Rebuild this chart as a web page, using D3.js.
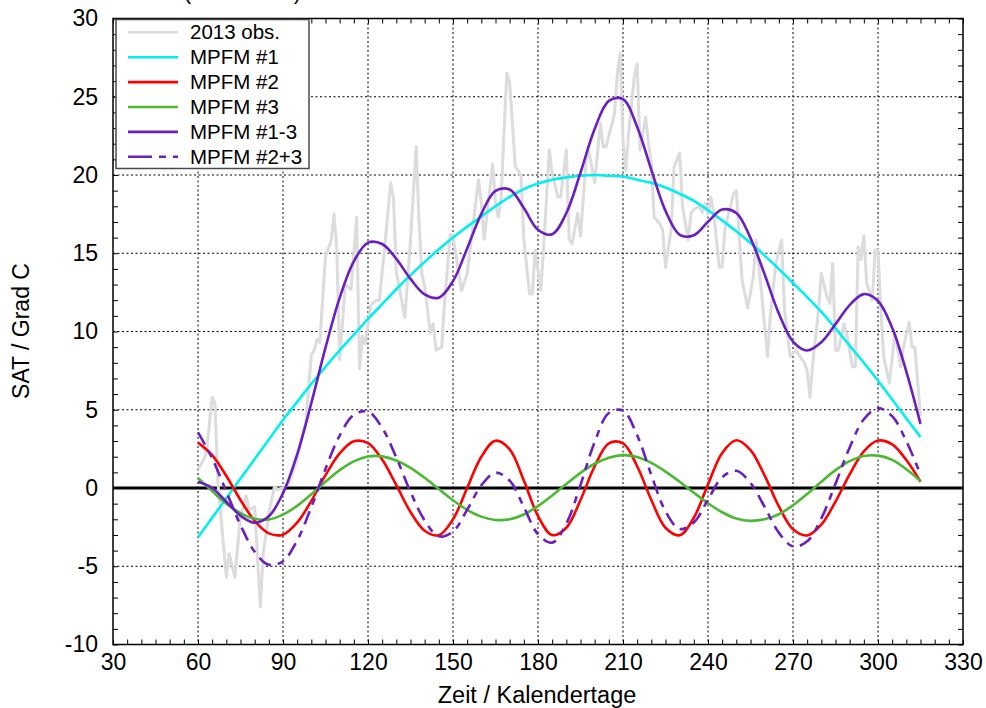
<!DOCTYPE html>
<html>
<head>
<meta charset="utf-8">
<script src="https://cdn.jsdelivr.net/npm/d3@7"></script>
<style>
  html, body { margin: 0; padding: 0; background: #fff; }
  svg { display: block; font-family: "Liberation Sans", Arial, sans-serif; }
</style>
</head>
<body>
<svg id="chart" width="986" height="708"></svg>
<script>
// model curves, sampled every 5 days
const days = d3.range(60, 316, 5);
const mpfm1 = [-3.15, -1.9, -0.65, 0.6, 1.85, 3.1, 4.35, 5.5, 6.65, 7.75, 8.8, 9.8, 10.8, 11.75, 12.7, 13.6, 14.45, 15.25, 16.0, 16.7,
  17.35, 18.0, 18.6, 19.1, 19.45, 19.7, 19.85, 19.95, 20.0, 19.95, 19.9, 19.7, 19.5, 19.2, 18.8, 18.35, 17.75, 17.1, 16.4, 15.65,
  14.85, 14.0, 13.1, 12.2, 11.25, 10.2, 9.1, 8.0, 6.85, 5.65, 4.45, 3.25];
const mpfm2 = [2.9, 2.1, 0.77, -0.77, -2.1, -2.9, -2.98, -2.21, -0.82, 0.82, 2.21, 2.98, 2.87, 1.82, 0.18, -1.53, -2.73, -3.02, -2.0, 0.0,
  2.0, 3.02, 2.47, 0.48, -1.79, -3.01, -2.54, -0.77, 1.39, 2.85, 2.85, 1.39, -0.77, -2.54, -3.02, -1.9, 0.23, 2.24, 3.05, 2.42,
  0.79, -1.17, -2.64, -3.03, -2.34, -0.87, 0.87, 2.34, 3.03, 2.79, 1.79, 0.4];
const mpfm3 = [0.65, -0.2, -1.0, -1.6, -1.97, -2.01, -1.7, -1.14, -0.4, 0.4, 1.14, 1.7, 2.01, 2.02, 1.76, 1.29, 0.65, -0.07, -0.78, -1.39,
  -1.83, -2.04, -2.0, -1.69, -1.16, -0.48, 0.26, 0.97, 1.55, 1.94, 2.1, 1.98, 1.6, 1.05, 0.4, -0.3, -0.97, -1.55, -1.95, -2.1,
  -2.0, -1.68, -1.1, -0.38, 0.4, 1.14, 1.72, 2.05, 2.07, 1.8, 1.2, 0.45];
const mpfm123 = [0.4, 0.0, -0.88, -1.77, -2.22, -1.81, -0.33, 2.15, 5.43, 8.97, 12.15, 14.48, 15.68, 15.59, 14.64, 13.36, 12.37, 12.16, 13.22, 15.31,
  17.52, 18.98, 19.07, 17.89, 16.5, 16.21, 17.57, 20.15, 22.94, 24.74, 24.85, 23.07, 20.33, 17.71, 16.18, 16.15, 17.01, 17.79, 17.57, 15.97,
  13.64, 11.15, 9.36, 8.79, 9.31, 10.47, 11.69, 12.39, 11.95, 10.24, 7.44, 4.1];
const mpfm23 = [3.55, 1.9, -0.23, -2.37, -4.07, -4.91, -4.68, -3.35, -1.22, 1.22, 3.35, 4.68, 4.88, 3.84, 1.94, -0.24, -2.08, -3.09, -2.78, -1.39,
  0.17, 0.98, 0.47, -1.21, -2.95, -3.49, -2.28, 0.2, 2.94, 4.79, 4.95, 3.37, 0.83, -1.49, -2.62, -2.2, -0.74, 0.69, 1.1, 0.32,
  -1.21, -2.85, -3.74, -3.41, -1.94, 0.27, 2.59, 4.39, 5.1, 4.59, 2.99, 0.85];

// 2013 observations (turning points)
const obsDays = [60, 62, 63, 65, 66, 67, 70, 71, 73, 75, 77, 78, 80, 82, 83, 85, 87, 88, 90, 92, 95, 96, 98, 100, 101, 102, 103, 105, 107, 108,
  109, 110, 112, 114, 116, 117, 118, 119, 121, 123, 124, 126, 128, 129, 130, 133, 135, 137, 138, 139, 140, 142, 143, 144, 146, 147, 149, 150, 153, 155,
  159, 160, 161, 164, 165, 166, 167, 168, 169, 170, 172, 173, 174, 175, 177, 178, 179, 181, 182, 184, 185, 187, 188, 190, 191, 192, 194, 195, 197, 198,
  200, 202, 203, 204, 207, 208, 209, 210, 211, 212, 214, 215, 216, 218, 219, 220, 221, 223, 224, 225, 227, 228, 230, 231, 233, 234, 235, 237, 238, 239,
  240, 241, 242, 244, 245, 246, 249, 250, 252, 254, 256, 257, 259, 261, 262, 264, 266, 267, 269, 271, 274, 275, 276, 277, 279, 280, 282, 283, 284, 285,
  286, 288, 289, 291, 292, 293, 294, 295, 296, 298, 299, 300, 301, 302, 304, 306, 308, 309, 311, 312, 313, 315];
const obsVals = [1.2, 1.8, 2.3, 5.8, 5.4, 0.4, -5.7, -4.2, -5.7, -1.8, -0.5, -1.4, -1.2, -7.6, -4.2, -1.6, 0.1, -0.1, 0.0, 0.3, 1.8, 2.8, 4.1, 8.5, 8.8, 9.5, 9.3, 14.8, 15.8, 17.5,
  15.2, 8.2, 13.0, 12.7, 17.3, 7.6, 9.7, 9.2, 11.7, 12.0, 12.0, 15.6, 19.5, 18.5, 13.8, 10.9, 15.8, 21.8, 17.1, 13.7, 12.9, 9.9, 10.5, 8.8, 9.0, 11.8, 16.2, 16.1, 12.6, 13.7,
  19.7, 18.2, 15.9, 20.7, 18.2, 17.3, 18.6, 22.7, 26.5, 25.9, 20.5, 20.3, 19.9, 15.9, 12.4, 12.4, 15.2, 12.65, 15.4, 21.6, 20.1, 18.6, 18.6, 21.6, 15.9, 15.6, 17.55, 16.1, 21.0, 21.5,
  19.5, 23.3, 21.8, 21.8, 23.9, 26.5, 27.8, 22.2, 20.3, 22.7, 26.3, 27.1, 21.6, 23.7, 22.0, 20.75, 17.3, 16.9, 16.5, 14.1, 16.5, 20.5, 21.4, 18.0, 15.85, 17.55, 17.8, 18.0, 17.6, 18.2,
  17.5, 18.6, 17.6, 14.1, 14.1, 16.6, 18.8, 19.0, 13.3, 11.5, 13.5, 15.85, 12.3, 8.4, 11.0, 14.4, 15.85, 11.4, 8.4, 8.8, 8.0, 7.5, 5.8, 8.0, 11.4, 13.7, 12.2, 11.8, 14.35, 8.8,
  8.8, 10.5, 9.8, 7.75, 7.75, 15.4, 14.6, 16.1, 13.1, 12.0, 15.2, 15.2, 11.4, 8.4, 6.7, 9.9, 7.75, 9.0, 10.6, 9.0, 9.0, 4.6];

const xTicks = d3.range(30, 331, 30);
const yTicks = d3.range(-10, 31, 5);
const legendLabels = ["2013 obs.", "MPFM #1", "MPFM #2", "MPFM #3", "MPFM #1-3", "MPFM #2+3"];

const svg = d3.select("#chart");
const pLeft = 113, pRight = 963, pTop = 18.5, pBottom = 644.5;

const x = d3.scaleLinear().domain([30, 330]).range([pLeft, pRight]);
const y = d3.scaleLinear().domain([-10, 30]).range([pBottom, pTop]);

// cut-off title at the very top
svg.append("text")
  .attr("x", 66).attr("y", -1.5)
  .style("font-size", "22px")
  .text("SAT Modell (Jena 2013)");

// grid
const grid = svg.append("g").attr("stroke", "#000").attr("stroke-width", 1).attr("stroke-dasharray", "2,2.5");
grid.selectAll(".gx").data(xTicks.slice(1, -1)).join("line")
  .attr("x1", d => x(d)).attr("x2", d => x(d)).attr("y1", pTop).attr("y2", pBottom);
grid.selectAll(".gy").data(yTicks.filter(d => d !== 0 && d !== -10 && d !== 30)).join("line")
  .attr("x1", pLeft).attr("x2", pRight).attr("y1", d => y(d)).attr("y2", d => y(d));

// zero line
svg.append("line")
  .attr("x1", pLeft).attr("x2", pRight).attr("y1", y(0)).attr("y2", y(0))
  .attr("stroke", "#000").attr("stroke-width", 3);

// axes with inward minor ticks
const minorX = d3.range(30, 331, 5), minorY = d3.range(-10, 31, 1);
function styleAxis(g) {
  g.select(".domain").remove();
  g.selectAll(".tick line").attr("stroke", "#000").attr("stroke-width", 1);
}
svg.append("g").attr("transform", `translate(0,${pBottom})`)
  .call(d3.axisBottom(x).tickValues(minorX).tickSize(-5).tickFormat(""))
  .call(styleAxis);
svg.append("g").attr("transform", `translate(0,${pTop})`)
  .call(d3.axisTop(x).tickValues(minorX).tickSize(-5).tickFormat(""))
  .call(styleAxis);
svg.append("g").attr("transform", `translate(${pLeft},0)`)
  .call(d3.axisLeft(y).tickValues(minorY).tickSize(-5).tickFormat(""))
  .call(styleAxis);
svg.append("g").attr("transform", `translate(${pRight},0)`)
  .call(d3.axisRight(y).tickValues(minorY).tickSize(-5).tickFormat(""))
  .call(styleAxis);

// tick labels (plain hyphen for negatives)
const xAx = svg.append("g").attr("transform", `translate(0,${pBottom})`)
  .call(d3.axisBottom(x).tickValues(xTicks).tickSize(0).tickPadding(9).tickFormat(d => String(d)));
xAx.select(".domain").remove();
xAx.selectAll("text").style("font-size", "23px").style("font-family", "Liberation Sans, Arial, sans-serif").attr("fill", "#000");
const yAx = svg.append("g").attr("transform", `translate(${pLeft},0)`)
  .call(d3.axisLeft(y).tickValues(yTicks).tickSize(0).tickPadding(15).tickFormat(d => String(d)));
yAx.select(".domain").remove();
yAx.selectAll("text").style("font-size", "23px").style("font-family", "Liberation Sans, Arial, sans-serif").attr("fill", "#000");

// axis titles
svg.append("text")
  .attr("x", 537).attr("y", 703)
  .attr("text-anchor", "middle").style("font-size", "23.5px")
  .text("Zeit / Kalendertage");
svg.append("text")
  .attr("transform", "translate(29,331) rotate(-90)")
  .attr("text-anchor", "middle").style("font-size", "23px")
  .text("SAT / Grad C");

// data lines
const plot = svg.append("g");
const obsLine = d3.line().x((d, i) => x(obsDays[i])).y(d => y(d));
plot.append("path").datum(obsVals)
  .attr("d", obsLine).attr("fill", "none")
  .attr("stroke", "#dcdcdc").attr("stroke-width", 3).attr("stroke-linejoin", "round");

const series = [
  { vals: mpfm1, color: "#00f0f0", dash: null },
  { vals: mpfm2, color: "#ff0000", dash: null },
  { vals: mpfm3, color: "#4cb934", dash: null },
  { vals: mpfm123, color: "#6a1fbf", dash: null },
  { vals: mpfm23, color: "#6a1fbf", dash: "14,7,7,7" }
];
const modelLine = d3.line().x((d, i) => x(days[i])).y(d => y(d)).curve(d3.curveCatmullRom.alpha(0.5));
series.forEach(s => {
  plot.append("path").datum(s.vals)
    .attr("d", modelLine).attr("fill", "none")
    .attr("stroke", s.color).attr("stroke-width", 2.6)
    .attr("stroke-dasharray", s.dash);
});

// frame
svg.append("rect")
  .attr("x", pLeft).attr("y", pTop).attr("width", pRight - pLeft).attr("height", pBottom - pTop)
  .attr("fill", "none").attr("stroke", "#000").attr("stroke-width", 1.5);

// legend
const legColors = ["#dcdcdc", "#00f0f0", "#ff0000", "#4cb934", "#6a1fbf", "#6a1fbf"];
const legDash = [null, null, null, null, null, "24,7,7,7"];
const leg = svg.append("g");
leg.append("rect")
  .attr("x", 116).attr("y", 19.5).attr("width", 193).attr("height", 149)
  .attr("fill", "#fff").attr("stroke", "#4a4a4a").attr("stroke-width", 1.5);
legendLabels.forEach((lab, i) => {
  const cy = 32.3 + i * 24.9;
  leg.append("line")
    .attr("x1", 128).attr("x2", 178).attr("y1", cy).attr("y2", cy)
    .attr("stroke", legColors[i]).attr("stroke-width", 2.6)
    .attr("stroke-dasharray", legDash[i]);
  leg.append("text")
    .attr("x", 190).attr("y", cy + 7)
    .style("font-size", "20.5px")
    .text(lab);
});
</script>
</body>
</html>
